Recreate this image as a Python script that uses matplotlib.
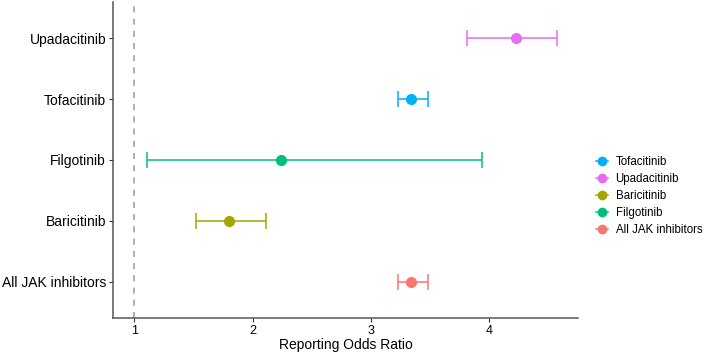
import matplotlib.pyplot as plt
from matplotlib.lines import Line2D

plt.rcParams['font.family'] = ['Liberation Sans', 'DejaVu Sans']

# bottom to top on the y axis
drugs = ['All JAK inhibitors', 'Baricitinib', 'Filgotinib', 'Tofacitinib', 'Upadacitinib']
ror = [3.34, 1.80, 2.24, 3.34, 4.23]
lower = [3.23, 1.52, 1.11, 3.23, 3.81]
upper = [3.48, 2.11, 3.94, 3.48, 4.57]
colors = ['#F8766D', '#A3A500', '#00BF7D', '#00B0F6', '#E76BF3']

legend_order = ['Tofacitinib', 'Upadacitinib', 'Baricitinib', 'Filgotinib', 'All JAK inhibitors']

fig = plt.figure(figsize=(7.07, 3.52), dpi=100)
ax = fig.add_axes([113 / 707, 34 / 352, 465 / 707, 316 / 352])

ax.axvline(1, color='#9a9a9a', linestyle=(0, (4, 4)), linewidth=1.1, zorder=1)

for i, d in enumerate(drugs):
    ax.errorbar(ror[i], i, xerr=[[ror[i] - lower[i]], [upper[i] - ror[i]]],
                fmt='o', color=colors[i], markersize=7, elinewidth=1.1,
                capsize=5.5, capthick=1.1, zorder=3)

ax.set_yticks(range(len(drugs)))
ax.set_yticklabels(drugs, fontsize=10, color='black')
ax.set_ylim(-0.6, len(drugs) - 1 + 0.6)
ax.set_xlim(0.82, 4.75)
ax.set_xticks([1, 2, 3, 4])
ax.tick_params(axis='x', labelsize=9, length=3, color='#333333', pad=2)
ax.tick_params(axis='y', length=3, color='#333333', pad=2)
ax.set_xlabel('Reporting Odds Ratio', fontsize=10, labelpad=1)

for s in ['top', 'right']:
    ax.spines[s].set_visible(False)
for s in ['left', 'bottom']:
    ax.spines[s].set_color('#555555')
    ax.spines[s].set_linewidth(1.1)

handles = []
for name in legend_order:
    c = colors[drugs.index(name)]
    handles.append(Line2D([0], [0], color=c, marker='o', markersize=6, linewidth=1.1, label=name))
fig.legend(handles=handles, loc='center left', bbox_to_anchor=(596 / 707, 1 - 196 / 352),
           frameon=False, fontsize=8.3, handlelength=1.0, handletextpad=0.7,
           labelspacing=0.42, borderaxespad=0, borderpad=0)

fig.savefig('out.png', dpi=100)
